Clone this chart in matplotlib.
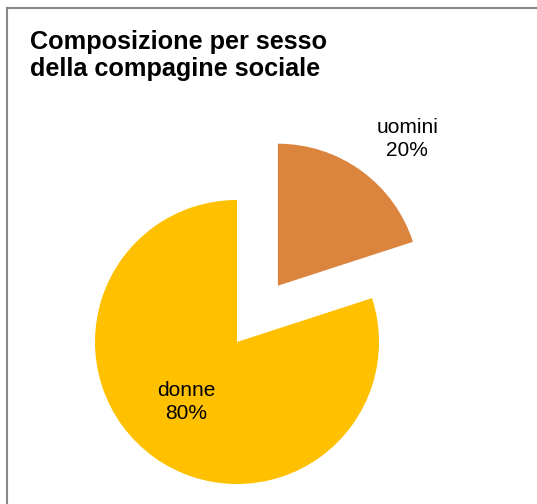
import matplotlib
matplotlib.use("Agg")
import matplotlib.pyplot as plt
import numpy as np
from matplotlib.lines import Line2D

plt.rcParams['font.family'] = ['Liberation Sans', 'DejaVu Sans']

# dati
categorie = ['uomini', 'donne']
valori = [20, 80]
colori = ['#DA843E', '#FFC000']
esplodi = [0.49, 0]   # frazione del raggio
titolo = "Composizione per sesso\ndella compagine sociale"
# spostamento etichette (in raggi) rispetto al centro della fetta
pos_etichette = [(0.91, 1.035), (-0.36, -0.42)]

W, H = 537, 504
fig = plt.figure(figsize=(W / 100, H / 100), dpi=100)
ax = fig.add_axes([0, 0, 1, 1])

raggio = 142
centro = (237, H - 342)
wedges, _ = ax.pie(valori, colors=colori,
                   explode=[e * raggio for e in esplodi], startangle=90,
                   counterclock=False, radius=raggio, center=centro,
                   frame=True)
ax.set_xlim(0, W)
ax.set_ylim(0, H)
ax.axis('off')

tot = sum(valori)
for w, cat, v, (fx, fy) in zip(wedges, categorie, valori, pos_etichette):
    cx, cy = w.center
    ax.text(cx + fx * raggio, cy + fy * raggio,
            f"{cat}\n{round(v / tot * 100)}%",
            ha='center', va='center', fontsize=15, linespacing=1.25)

fig.text(30 / W, 1 - 30 / H, titolo, ha='left', va='top', fontsize=18.2,
         fontweight='bold', linespacing=1.17)

# cornice
fig.add_artist(Line2D([7.5 / W, 7.5 / W], [0, 1 - 7.5 / H], color='#888888', lw=1.5))
fig.add_artist(Line2D([7.5 / W, 1], [1 - 7.5 / H, 1 - 7.5 / H], color='#888888', lw=1.5))

fig.savefig('out.png', dpi=100)
